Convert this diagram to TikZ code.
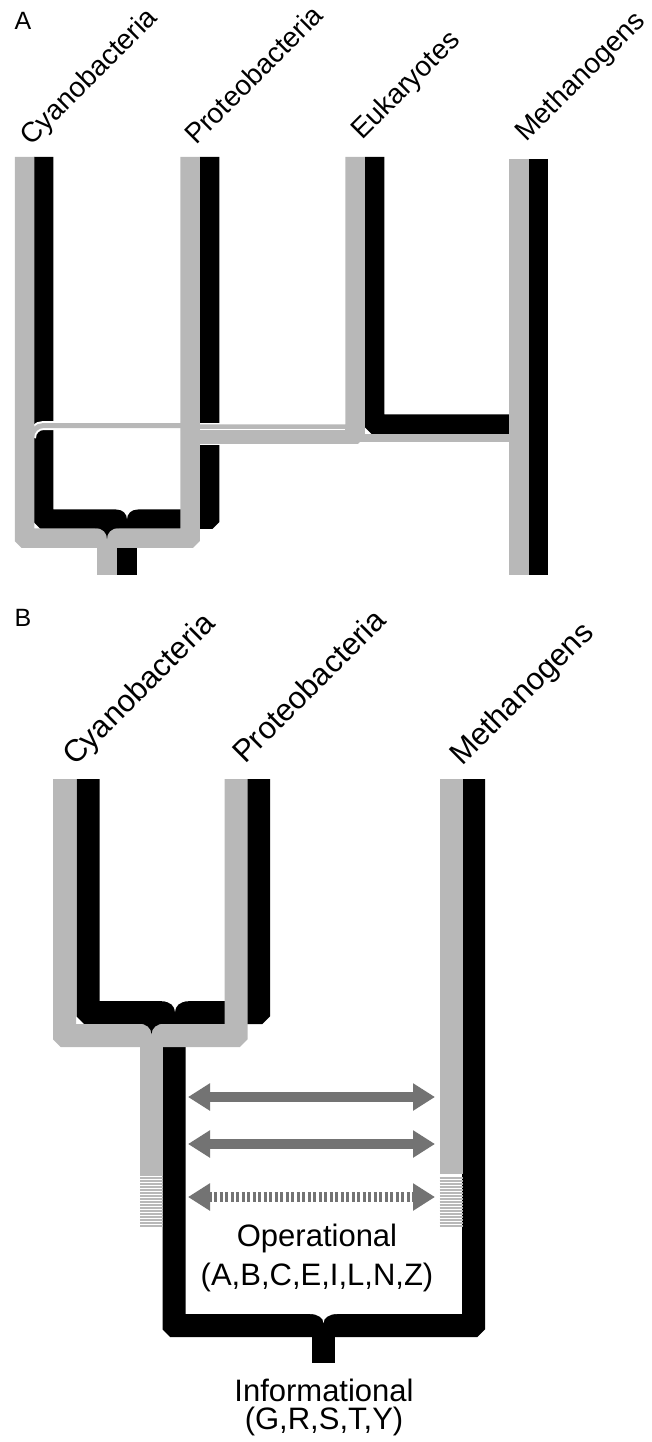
\documentclass[tikz,border=0pt]{standalone}
\usepackage{fontspec}
\setmainfont{Liberation Sans}
\usetikzlibrary{arrows.meta}
\definecolor{bandgrey}{gray}{0.72}
\definecolor{opgrey}{gray}{0.45}
\newcommand{\taxfontA}{\fontsize{28}{33}\selectfont}
\newcommand{\taxfontB}{\fontsize{31}{36}\selectfont}
\newcommand{\panelfont}{\fontsize{25}{30}\selectfont}
\newcommand{\genefont}{\fontsize{31}{36}\selectfont}

\begin{document}
\begin{tikzpicture}[x=1pt,y=-1pt,
    bandA/.style={line width=19.5pt,rounded corners=1pt},
    bandB/.style={line width=23pt,rounded corners=1pt},
    halo/.style={draw=white},
    taxonA/.style={rotate=45,anchor=base west,inner sep=0pt,font=\taxfontA},
    taxonB/.style={rotate=45,anchor=base west,inner sep=0pt,font=\taxfontB},
    panel/.style={inner sep=0pt,font=\panelfont},
    gene/.style={inner sep=0pt,align=center,font=\genefont},
    transfer/.style={opgrey,line width=10pt,{Triangle[length=22pt,width=26pt]}-{Triangle[length=22pt,width=26pt]}},
  ]
    \useasboundingbox (0,0) rectangle (651,1442);

    %%panel A
    \node[panel] (labA) at (23,21) {A};
    \node[taxonA] (cyanoA) at (31,147) {Cyanobacteria};
    \node[taxonA] (proteoA) at (196,146) {Proteobacteria};
    \node[taxonA] (eukA) at (362,141) {Eukaryotes};
    \node[taxonA] (methA) at (526,143) {Methanogens};

    %%black tree
    \draw[bandA] (43.5,157) -- (43.5,519) -- (209.5,519) -- (209.5,157);
    \draw[bandA] (127,540) -- (127,575);
    \draw[bandA] (374.5,157) -- (374.5,424) -- (509,424);
    \draw[bandA] (538.5,159) -- (538.5,575);

    %%grey tree
    \draw[halo,line width=9pt,rounded corners=12pt] (31.5,438) -- (31.5,425.5) -- (190,425.5);
    \draw[bandgrey,line width=5pt,rounded corners=12pt] (31.5,438) -- (31.5,425.5) -- (190,425.5);
    \draw[halo,line width=22pt] (195,434) -- (224,434);
    \draw[bandgrey,bandA] (190,434) -- (355,434) -- (355,157);
    \draw[white,line width=1pt] (200,429) -- (345,429);
    \draw[bandgrey,line width=8pt] (360,438) -- (519,438);
    \draw[bandgrey,bandA] (24.5,157) -- (24.5,538) -- (190,538) -- (190,157);
    \draw[bandgrey,bandA] (107,538) -- (107,575);
    \draw[bandgrey,bandA] (519,159) -- (519,575);

    %%brace tips
    \fill (95,528) .. controls (103,528) and (107,533) .. (107,539) .. controls (107,533) and (111,528) .. (119,528) -- (119,527) -- (95,527) -- cycle;
    \fill[white] (116,509.25) .. controls (123,509.25) and (127,514) .. (127,519) .. controls (127,514) and (131,509.25) .. (138,509.25) -- (138,508) -- (116,508) -- cycle;

    %%panel B
    \node[panel] (labB) at (23,618) {B};
    \node[taxonB] (cyanoB) at (75,767) {Cyanobacteria};
    \node[taxonB] (proteoB) at (245,765) {Proteobacteria};
    \node[taxonB] (methB) at (462,767) {Methanogens};

    %%black tree
    \draw[bandB] (88,779) -- (88,1012.5) -- (258.5,1012.5) -- (258.5,779);
    \draw[bandB] (174,1030) -- (174,1325.5) -- (473.5,1325.5) -- (473.5,779);
    \draw[bandB] (323.5,1330) -- (323.5,1363);

    %%grey tree, fading out
    \draw[bandgrey,bandB] (64.5,779) -- (64.5,1035.5) -- (236,1035.5) -- (236,779);
    \draw[bandgrey,bandB] (151.5,1035.5) -- (151.5,1176);
    \draw[bandgrey,bandB] (451,779) -- (451,1174);
    \foreach \y in {1178,1181,...,1228} {
        \draw[bandgrey,line width=1.3pt] (140,\y) -- (163,\y);
        \draw[bandgrey,line width=1.3pt] (439.5,\y) -- (462.5,\y);
    }

    %%brace tips
    \fill (138.5,1023.5) .. controls (146,1023.5) and (151.5,1028) .. (151.5,1034) .. controls (151.5,1028) and (157,1023.5) .. (164.5,1023.5) -- (164.5,1022) -- (138.5,1022) -- cycle;
    \fill[white] (162,1001.25) .. controls (170,1001.25) and (175,1006) .. (175,1012) .. controls (175,1006) and (180,1001.25) .. (188,1001.25) -- (188,1000) -- (162,1000) -- cycle;
    \fill[white] (310,1314) .. controls (318,1314) and (323.5,1318) .. (323.5,1323) .. controls (323.5,1318) and (329,1314) .. (337,1314) -- (337,1312) -- (310,1312) -- cycle;

    %%transfers
    \foreach \y/\n in {1097/a,1144/b,1197/c} {
        \coordinate (opL\n) at (188,\y);
        \coordinate (opR\n) at (435,\y);
    }
    \draw[transfer] (opLa) -- (opRa);
    \draw[transfer] (opLb) -- (opRb);
    \draw[transfer,dash pattern=on 3pt off 2.5pt] (opLc) -- (opRc);

    \node[gene] (oper) at (317,1238) {Operational};
    \node[gene] (operlist) at (317,1277) {(A,B,C,E,I,L,N,Z)};
    \node[gene] (info) at (324,1390) {Informational};
    \node[gene] (infolist) at (324,1421) {(G,R,S,T,Y)};
\end{tikzpicture}
\end{document}
